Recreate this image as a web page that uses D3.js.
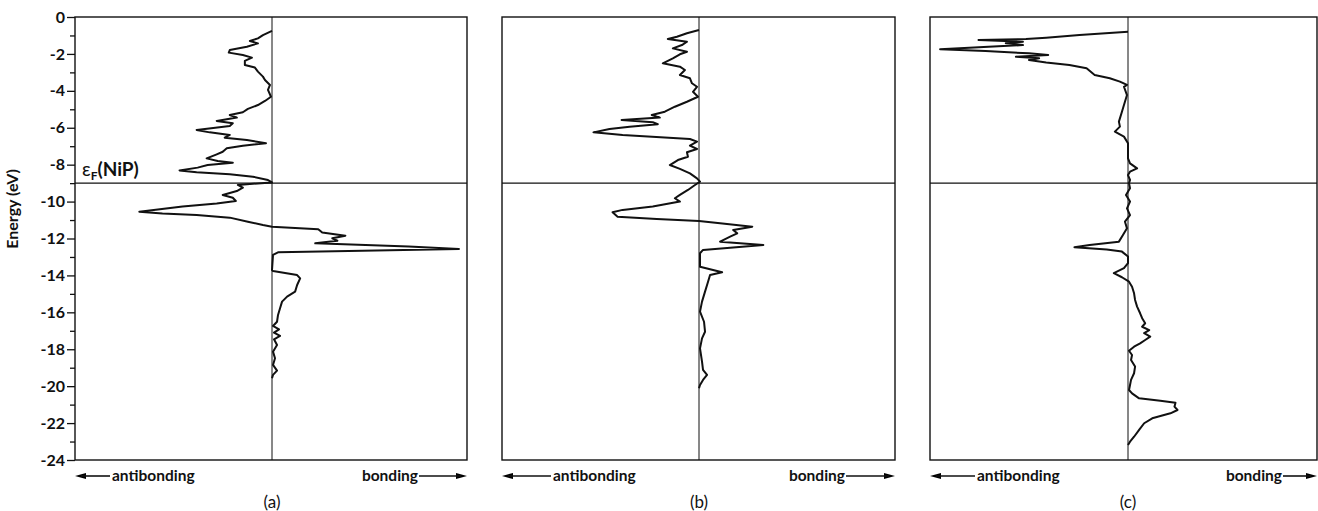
<!DOCTYPE html>
<html>
<head>
<meta charset="utf-8">
<script src="https://cdn.jsdelivr.net/npm/d3@7"></script>
<style>
  body { margin: 0; background: #fff; }
  svg text { font-family: "Lato", "Open Sans", sans-serif; fill: #111; }
  .frame { fill: none; stroke: #111; stroke-width: 1.4; }
  .zero { stroke: #111; stroke-width: 1; }
  .fermi { stroke: #111; stroke-width: 1.2; }
  .coop { fill: none; stroke: #111; stroke-width: 2; stroke-linejoin: round; }
</style>
</head>
<body>
<div class="chart"></div>
<script>
// energy (eV), COOP (arb. units, + bonding / - antibonding)
const coopA = [
  [-0.75, 0], [-0.98, -0.9], [-1.16, -1.4], [-1.30, -2.2], [-1.43, -1.4], [-1.61, -2.5],
  [-1.79, -4.2], [-1.93, -4.3], [-2.06, -2.9], [-2.20, -2.0], [-2.38, -2.7], [-2.60, -2.7],
  [-2.74, -1.7], [-2.96, -1.4], [-3.23, -0.9], [-3.41, -0.7], [-3.68, -0.2], [-3.95, -0.4],
  [-4.32, -0.1], [-4.55, -0.7], [-4.77, -1.4], [-4.98, -2.4], [-5.16, -2.9], [-5.31, -4.2],
  [-5.45, -3.5], [-5.63, -5.5], [-5.76, -3.9], [-5.90, -4.2], [-6.12, -7.5], [-6.25, -6.2],
  [-6.39, -4.2], [-6.54, -4.7], [-6.66, -2.5], [-6.84, -0.6], [-6.97, -2.9], [-7.11, -4.5],
  [-7.30, -4.9], [-7.44, -5.5], [-7.66, -6.5], [-7.80, -5.4], [-7.89, -3.9], [-8.02, -6.4],
  [-8.16, -7.4], [-8.31, -9.2], [-8.41, -7.5], [-8.52, -4.2], [-8.65, -1.9], [-8.83, -0.4],
  [-8.96, 0], [-9.10, -3.4], [-9.25, -2.9], [-9.43, -3.5], [-9.64, -4.9], [-9.79, -3.9],
  [-9.97, -3.6], [-10.11, -5.5], [-10.27, -8.9], [-10.55, -13.2], [-10.65, -10.9],
  [-10.73, -7.5], [-10.87, -4.2], [-11.09, -2.4], [-11.27, -0.9], [-11.36, 0],
  [-11.50, 4.6], [-11.68, 5.0], [-11.85, 7.3], [-11.99, 6.0], [-12.12, 6.5], [-12.26, 4.3],
  [-12.44, 13.6], [-12.57, 18.6], [-12.68, 7.6], [-12.75, 0.6], [-12.89, 0.1], [-13.71, 0],
  [-13.76, 0.1], [-13.98, 2.5], [-14.16, 2.8], [-14.52, 2.5], [-14.88, 2.3], [-15.15, 1.5],
  [-15.42, 1.0], [-15.78, 0.8], [-16.14, 0.6], [-16.51, 0.5], [-16.74, 0.1], [-16.92, 0.7],
  [-17.10, 0.2], [-17.28, 0.8], [-17.46, 0.2], [-17.77, 0.5], [-18.13, 0.1], [-18.49, 0.3],
  [-18.85, 0.1], [-19.16, 0.5], [-19.39, 0.1], [-19.57, 0]
];

const coopB = [
  [-0.70, 0], [-0.88, -1.2], [-1.07, -2.2], [-1.19, -3.1], [-1.34, -1.2], [-1.52, -1.7],
  [-1.70, -2.6], [-1.88, -1.2], [-2.02, -1.9], [-2.24, -2.6], [-2.51, -3.6], [-2.69, -1.9],
  [-2.87, -1.4], [-3.14, -1.9], [-3.32, -0.9], [-3.59, -0.7], [-3.78, -0.2], [-4.05, -0.6],
  [-4.32, -0.1], [-4.59, -1.2], [-4.86, -2.4], [-5.13, -3.4], [-5.31, -4.7], [-5.45, -3.9],
  [-5.58, -7.7], [-5.70, -4.6], [-5.81, -4.1], [-5.94, -6.9], [-6.07, -8.9], [-6.25, -10.5],
  [-6.39, -7.6], [-6.61, -0.9], [-6.75, -0.2], [-6.97, -0.9], [-7.15, -0.2], [-7.33, -1.2],
  [-7.57, -1.1], [-7.75, -2.1], [-8.02, -2.9], [-8.23, -1.9], [-8.47, -0.9], [-8.74, -0.2],
  [-8.92, 0.1], [-9.10, -0.4], [-9.37, -1.1], [-9.64, -1.9], [-9.82, -2.4], [-10.00, -1.9],
  [-10.27, -4.6], [-10.45, -7.6], [-10.58, -8.6], [-10.82, -8.1], [-10.94, -4.2], [-11.05, 0],
  [-11.18, 2.1], [-11.36, 5.3], [-11.54, 3.4], [-11.72, 3.8], [-11.90, 3.1], [-12.17, 2.1],
  [-12.35, 6.4], [-12.50, 3.1], [-12.62, 0.4], [-12.80, 0.1], [-13.53, 0.1], [-13.71, 1.4],
  [-13.83, 2.3], [-13.98, 1.1], [-14.34, 0.9], [-14.88, 0.6], [-15.42, 0.3], [-15.96, 0.1],
  [-16.51, 0.5], [-17.05, 0.6], [-17.41, 0.3], [-17.95, 0.1], [-18.67, 0.3], [-19.12, 0.4],
  [-19.39, 0.8], [-19.66, 0.4], [-19.94, 0.1], [-20.11, 0]
];

const coopC = [
  [-0.80, 0], [-0.98, -4.8], [-1.12, -8.1], [-1.19, -10.1], [-1.25, -14.8], [-1.34, -10.4],
  [-1.42, -12.1], [-1.52, -10.4], [-1.61, -13.8], [-1.75, -18.6], [-1.84, -14.1], [-1.97, -9.8],
  [-2.06, -7.9], [-2.15, -11.1], [-2.24, -8.8], [-2.33, -9.8], [-2.46, -8.1], [-2.60, -5.8],
  [-2.78, -4.1], [-3.14, -3.3], [-3.32, -1.8], [-3.50, -0.8], [-3.68, -0.1], [-3.78, -0.4],
  [-4.23, -0.1], [-4.77, -0.4], [-5.13, -0.6], [-5.67, -0.9], [-5.94, -0.8], [-6.21, -1.3],
  [-6.48, -0.4], [-6.84, 0], [-7.66, 0], [-7.93, 0.2], [-8.20, 0.9], [-8.38, 0.2], [-8.56, 0],
  [-8.83, 0.2], [-9.01, 0.1], [-9.28, 0.2], [-9.64, -0.2], [-10.00, 0.2], [-10.37, -0.1],
  [-10.73, 0.2], [-11.09, -0.3], [-11.45, -0.1], [-11.81, -0.5], [-12.17, -0.9], [-12.35, -3.8],
  [-12.48, -5.3], [-12.59, -2.1], [-12.71, -0.6], [-12.98, 0], [-13.34, 0], [-13.61, -0.4],
  [-13.88, -1.4], [-14.10, -0.6], [-14.34, 0.1], [-14.61, 0.4], [-14.97, 0.6], [-15.33, 0.7],
  [-15.69, 0.9], [-16.05, 1.2], [-16.32, 1.4], [-16.59, 1.7], [-16.78, 1.4], [-16.96, 2.1],
  [-17.13, 1.6], [-17.32, 2.2], [-17.50, 1.7], [-17.68, 1.2], [-17.86, 0.6], [-18.08, 0.1],
  [-18.31, 0.4], [-18.58, 0.3], [-18.94, 0.7], [-19.30, 0.6], [-19.66, 0.3], [-19.94, 0.2],
  [-20.21, 0.1], [-20.39, 0.4], [-20.66, 1.1], [-20.79, 3.2], [-20.90, 4.7], [-21.11, 4.6],
  [-21.29, 4.9], [-21.47, 4.2], [-21.74, 2.4], [-22.01, 1.6], [-22.37, 1.1], [-22.74, 0.6],
  [-23.01, 0.2], [-23.19, 0]
];

const fermiEnergy = -9.0;
const panelNames = ["(a)", "(b)", "(c)"];
const majorTicks = d3.range(0, -25, -2);
const minorTicks = d3.range(-1, -24, -2);

const width = 1318;
const height = 511;

const svg = d3.select("div.chart")
    .append("svg")
    .attr("width", width)
    .attr("height", height);

const y = d3.scaleLinear()
    .domain([0, -24])
    .range([17, 460]);

// left edge, zero line, right edge (frame), arrow lengths
const panels = [
    {data: coopA, x0: 75, xc: 272, x1: 467, arrowL: 35, arrowR: 48},
    {data: coopB, x0: 502, xc: 699, x1: 895, arrowL: 49, arrowR: 49},
    {data: coopC, x0: 930, xc: 1128, x1: 1317, arrowL: 45, arrowR: 34}
];

const arrowPath = "M0,0 L11,-3 L11,3 Z";

panels.forEach(function(p, i) {
    const x = d3.scaleLinear()
        .domain([-19.6, 0, 19.6])
        .range([p.x0, p.xc, 2 * p.xc - p.x0]);

    const g = svg.append("g");

    g.append("rect")
        .attr("class", "frame")
        .attr("x", p.x0)
        .attr("y", y(0))
        .attr("width", p.x1 - p.x0)
        .attr("height", y(-24) - y(0));

    g.append("line")
        .attr("class", "zero")
        .attr("x1", x(0)).attr("x2", x(0))
        .attr("y1", y(0)).attr("y2", y(-24));

    g.append("line")
        .attr("class", "fermi")
        .attr("x1", p.x0).attr("x2", p.x1)
        .attr("y1", y(fermiEnergy)).attr("y2", y(fermiEnergy));

    const line = d3.line()
        .x(function(d) { return x(d[1]); })
        .y(function(d) { return y(d[0]); });

    g.append("path")
        .datum(p.data)
        .attr("class", "coop")
        .attr("d", line);

    // antibonding / bonding arrows under the panel
    const ty = 481;
    const ay = ty - 5;
    g.append("path").attr("d", arrowPath)
        .attr("transform", "translate(" + p.x0 + "," + ay + ")");
    g.append("line")
        .attr("x1", p.x0 + 6).attr("x2", p.x0 + p.arrowL)
        .attr("y1", ay).attr("y2", ay)
        .attr("stroke", "#111").attr("stroke-width", 1.6);
    g.append("text")
        .attr("x", p.x0 + p.arrowL + 2)
        .attr("y", ty)
        .attr("font-size", 15.5)
        .attr("font-weight", 700)
        .text("antibonding");

    g.append("path").attr("d", arrowPath)
        .attr("transform", "translate(" + p.x1 + "," + ay + ") scale(-1,1)");
    g.append("line")
        .attr("x1", p.x1 - p.arrowR).attr("x2", p.x1 - 6)
        .attr("y1", ay).attr("y2", ay)
        .attr("stroke", "#111").attr("stroke-width", 1.6);
    g.append("text")
        .attr("x", p.x1 - p.arrowR - 1)
        .attr("y", ty)
        .attr("text-anchor", "end")
        .attr("font-size", 15.5)
        .attr("font-weight", 700)
        .text("bonding");

    g.append("text")
        .attr("x", x(0))
        .attr("y", 508)
        .attr("text-anchor", "middle")
        .attr("font-size", 17)
        .text(panelNames[i]);
});

// energy axis on the first panel
const axisMajor = d3.axisLeft(y)
    .tickValues(majorTicks)
    .tickSize(8)
    .tickPadding(2)
    .tickFormat(function(d) { return String(d); });

const axisMinor = d3.axisLeft(y)
    .tickValues(minorTicks)
    .tickSize(5)
    .tickFormat("");

const gy = svg.append("g")
    .attr("transform", "translate(" + panels[0].x0 + ",0)")
    .call(axisMajor);
gy.select(".domain").remove();
gy.selectAll("text")
    .attr("font-size", 16)
    .attr("font-weight", 700)
    .style("font-family", "Lato, sans-serif");
gy.selectAll("line").attr("stroke", "#111").attr("stroke-width", 1.3);

const gm = svg.append("g")
    .attr("transform", "translate(" + panels[0].x0 + ",0)")
    .call(axisMinor);
gm.select(".domain").remove();
gm.selectAll("line").attr("stroke", "#111").attr("stroke-width", 1.3);

svg.append("text")
    .attr("transform", "translate(18," + y(-10.4) + ") rotate(-90)")
    .attr("text-anchor", "middle")
    .attr("font-size", 16)
    .attr("font-weight", 700)
    .text("Energy (eV)");

// Fermi level label
const fl = svg.append("text")
    .attr("x", 82)
    .attr("y", 176)
    .attr("font-size", 19);
fl.append("tspan").text("\u03B5");
fl.append("tspan").attr("dy", 4).attr("font-size", 12).attr("font-weight", 700).text("F");
fl.append("tspan").attr("dy", -4).attr("font-weight", 700).text("(NiP)");
</script>
</body>
</html>
